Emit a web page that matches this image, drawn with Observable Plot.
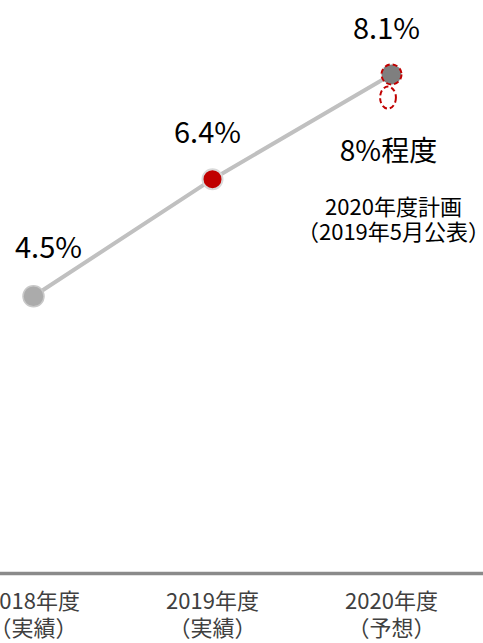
<!DOCTYPE html>
<html>
<head>
<meta charset="utf-8">
<script src="https://cdn.jsdelivr.net/npm/d3@7"></script>
<script src="https://cdn.jsdelivr.net/npm/@observablehq/plot@0.6"></script>
<style>
  html, body { margin: 0; padding: 0; background: #fff; }
  #chart svg { display: block; }
</style>
</head>
<body>
<div id="chart"></div>
<script>
// Data
const years = [2018, 2019, 2020];
const values = [4.5, 6.4, 8.1];
const valueLabels = ["4.5%", "6.4%", "8.1%"];
const tickLabels = ["2018年度\n（実績）", "2019年度\n（実績）", "2020年度\n（予想）"];
const planYear = 2020;
const planValue = 8;
const planLabel = "8%程度";
const planNote = "2020年度計画\n（2019年5月公表）";

const data = years.map((year, i) => ({year, value: values[i], label: valueLabels[i]}));
const plan = [{year: planYear, value: planValue}];

const font = "'Noto Sans CJK JP', 'Noto Sans', sans-serif";

// turn circles into ellipses (narrower horizontally)
function ellipseRender(index, scales, vals, dims, ctx, next) {
  const g = next(index, scales, vals, dims, ctx);
  d3.select(g).selectAll("circle").each(function () {
    const c = d3.select(this);
    const r = +c.attr("r");
    const e = d3.create("svg:ellipse")
      .attr("cx", c.attr("cx") || 0)
      .attr("cy", c.attr("cy") || 0)
      .attr("rx", r * 0.72)
      .attr("ry", r);
    if (c.attr("transform")) e.attr("transform", c.attr("transform"));
    this.parentNode.insertBefore(e.node(), this);
    c.remove();
  });
  return g;
}

const chart = Plot.plot({
  width: 483,
  height: 643,
  marginLeft: 0,
  marginRight: 0,
  marginTop: 0,
  marginBottom: 70,
  style: {fontFamily: font, background: "#fff"},
  x: {type: "point", domain: years, padding: 0, insetLeft: 32, insetRight: 92, axis: null},
  y: {domain: [0, 9.3], axis: null},
  marks: [
    Plot.ruleY([0], {stroke: "#8a8a8a", strokeWidth: 3.5}),
    Plot.axisX({
      label: null,
      tickSize: 0,
      tickPadding: 17,
      fontSize: 22,
      lineHeight: 1.2,
      tickFormat: (d) => tickLabels[years.indexOf(d)],
      fill: "#404040"
    }),
    Plot.line(data, {x: "year", y: "value", stroke: "#c0c0c0", strokeWidth: 4}),
    // plan ellipse (dashed)
    Plot.dot(plan, {x: "year", y: "value", r: 11, dx: -3.5, dy: 17, fill: "none",
      stroke: "#c00000", strokeWidth: 2, strokeDasharray: "5,3", render: ellipseRender}),
    Plot.dot(data.filter(d => d.year === 2018), {x: "year", y: "value", r: 10.5, fill: "#ababab", stroke: "#c8c8c8", strokeWidth: 1.5}),
    Plot.dot(data.filter(d => d.year === 2019), {x: "year", y: "value", r: 10, fill: "#c00000", stroke: "#d9d9d9", strokeWidth: 2}),
    Plot.dot(data.filter(d => d.year === 2020), {x: "year", y: "value", r: 10, fill: "#7f7f7f", stroke: "#c00000", strokeWidth: 2, strokeDasharray: "5,3"}),
    // value labels
    Plot.text(data.filter(d => d.year === 2018), {x: "year", y: "value", text: "label", dx: 15, dy: -48, fontSize: 29, fill: "#000", lineAnchor: "middle"}),
    Plot.text(data.filter(d => d.year !== 2018), {x: "year", y: "value", text: "label", dx: -5, dy: -45, fontSize: 29, fill: "#000", lineAnchor: "middle"}),
    // plan labels
    Plot.text(plan, {x: "year", y: "value", text: () => planLabel, dx: -3, dy: 71, fontSize: 28, fill: "#000", lineAnchor: "middle"}),
    Plot.text(plan, {x: "year", y: "value", text: () => planNote, dx: 2, dy: 139, fontSize: 22, lineHeight: 1.15, fill: "#000", lineAnchor: "middle"})
  ]
});
document.getElementById("chart").appendChild(chart);
</script>
</body>
</html>
